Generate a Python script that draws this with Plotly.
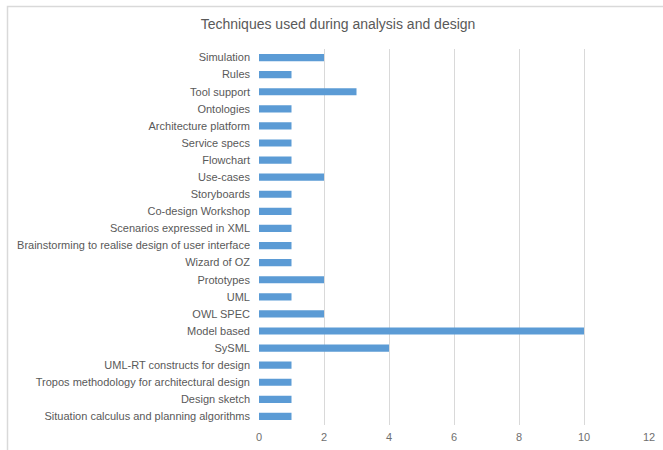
import plotly.graph_objects as go

categories = [
    "Simulation", "Rules", "Tool support", "Ontologies", "Architecture platform",
    "Service specs", "Flowchart", "Use-cases", "Storyboards", "Co-design Workshop",
    "Scenarios expressed in XML", "Brainstorming to realise design of user interface",
    "Wizard of OZ", "Prototypes", "UML", "OWL SPEC", "Model based", "SySML",
    "UML-RT constructs for design", "Tropos methodology for architectural design",
    "Design sketch", "Situation calculus and planning algorithms",
]
values = [2, 1, 3, 1, 1, 1, 1, 2, 1, 1, 1, 1, 1, 2, 1, 2, 10, 4, 1, 1, 1, 1]
x_ticks = [0, 2, 4, 6, 8, 10, 12]

W, H = 663, 450
L, R, T, B = 259, 14, 49, 25
pw, ph = W - L - R, H - T - B

fig = go.Figure(go.Bar(
    x=values, y=categories, orientation="h",
    marker=dict(color="#5B9BD5", line=dict(width=0)),
    width=0.42,
))

fig.update_layout(
    width=W, height=H,
    margin=dict(l=L, r=R, t=T, b=B, autoexpand=False),
    paper_bgcolor="white", plot_bgcolor="white",
    font=dict(family="Liberation Sans, Arial, sans-serif", size=11, color="#595959"),
    title=dict(text="Techniques used during analysis and design",
               x=338 / W, xanchor="center", xref="container",
               y=1 - 24 / H, yanchor="middle",
               font=dict(size=14, color="#595959")),
    showlegend=False,
)
fig.update_xaxes(range=[0, 12], tickvals=x_ticks, showgrid=True, gridcolor="#D9D9D9",
                 gridwidth=1, zeroline=False, showline=False, ticks="",
                 ticklabelstandoff=4,
                 tickfont=dict(size=11, color="#6f6f6f"))
fig.update_yaxes(autorange="reversed", showgrid=False, zeroline=False, showline=False,
                 ticks="", ticklabelstandoff=8, tickfont=dict(size=11, color="#595959"))

# chart frame (extends past the picture on right and bottom)
fig.add_shape(type="rect", xref="paper", yref="paper",
              x0=(7.5 - L) / pw, x1=(W + 20 - L) / pw,
              y0=-(B + 20) / ph, y1=1 + (T - 6.5) / ph,
              line=dict(color="#D9D9D9", width=1.5), fillcolor="rgba(0,0,0,0)", layer="below")

fig.write_html("out.html", config={"displayModeBar": False},
               post_script="document.body.style.margin='0';document.body.style.overflow='hidden';")
